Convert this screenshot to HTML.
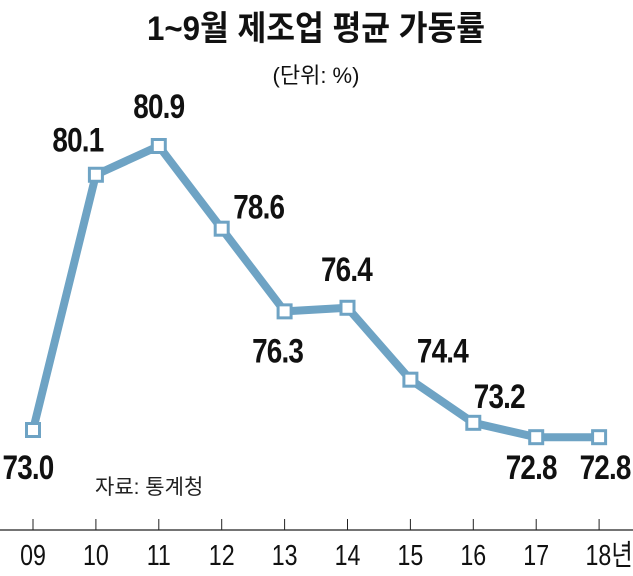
<!DOCTYPE html>
<html><head><meta charset="utf-8"><style>
body{margin:0;background:#fff}
svg text{font-family:"Liberation Sans","Noto Sans CJK KR",sans-serif}
</style></head><body>
<svg width="633" height="571" viewBox="0 0 633 571">
<text x="316" y="40" text-anchor="middle" font-size="34" font-weight="bold" fill="#111" transform="translate(316 0) scale(0.92 1) translate(-316 0)">1~9월 제조업 평균 가동률</text>
<text x="316" y="83" text-anchor="middle" font-size="22" fill="#111">(단위: %)</text>
<text x="95" y="494" font-size="21" fill="#222">자료: 통계청</text>
<line x1="0" y1="530" x2="633" y2="530" stroke="#222" stroke-width="1.2"/>
<g id="ticks"></g>
<polyline id="line" fill="none" stroke="#6ea3c4" stroke-width="8" stroke-linejoin="round"/>
<g id="marks"></g>
</svg>
<script>
const categories=["09","10","11","12","13","14","15","16","17","18년"];
const values=[73.0,80.1,80.9,78.6,76.3,76.4,74.4,73.2,72.8,72.8];
const valueLabels=["73.0","80.1","80.9","78.6","76.3","76.4","74.4","73.2","72.8","72.8"];
const labelDx=[-5,-18,0,37,-7,-1,32,26,-5,6];
const labelDy=[39,-33,-38,-20,41,-37,-27,-25,32,32];
const NS="http://www.w3.org/2000/svg";
function xs(i){return 33+i*62.9;}
function ys(v){return 430-(v-73.0)*35.95;}
const ticks=document.getElementById('ticks'),marks=document.getElementById('marks');
let pts=[];
categories.forEach((c,i)=>{
 const x=xs(i);
 const t=document.createElementNS(NS,'line');
 t.setAttribute('x1',x);t.setAttribute('x2',x);t.setAttribute('y1',519);t.setAttribute('y2',530);
 t.setAttribute('stroke','#222');
 
 
 ticks.appendChild(t);
 const l=document.createElementNS(NS,'text');
 const lx=x+(i==9?10:0);
 l.setAttribute('x',lx);l.setAttribute('y',565);l.setAttribute('text-anchor','middle');
 l.setAttribute('font-size','29');l.setAttribute('fill','#111');
 l.setAttribute('transform',`translate(${lx} 0) scale(0.8 1) translate(${-lx} 0)`);
 l.textContent=c;
 
 
 ticks.appendChild(l);
 pts.push(x+','+ys(values[i]));
});
document.getElementById('line').setAttribute('points',pts.join(' '));
values.forEach((v,i)=>{
 const x=xs(i),y=ys(v);
 const r=document.createElementNS(NS,'rect');
 r.setAttribute('x',x-6.5);r.setAttribute('y',y-6.5);r.setAttribute('width',13);r.setAttribute('height',13);
 r.setAttribute('fill','#fff');r.setAttribute('stroke','#6ea3c4');r.setAttribute('stroke-width','3');
 
 
 marks.appendChild(r);
 const t=document.createElementNS(NS,'text');
 const lx=x+labelDx[i],ly=y+labelDy[i]+10;
 t.setAttribute('x',lx);t.setAttribute('y',ly);t.setAttribute('text-anchor','middle');
 t.setAttribute('font-size','34');t.setAttribute('font-weight','bold');t.setAttribute('fill','#111');
 t.setAttribute('letter-spacing','-1');
 t.setAttribute('transform',`translate(${lx} 0) scale(0.82 1) translate(${-lx} 0)`);
 t.textContent=valueLabels[i];
 
 
 marks.appendChild(t);
});
</script>
</body></html>
